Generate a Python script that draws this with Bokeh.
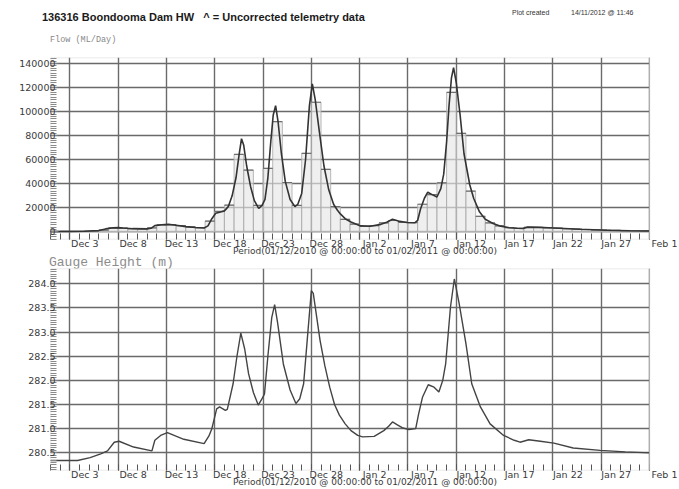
import datetime as dt
from bokeh.plotting import figure
from bokeh.layouts import column
from bokeh.models import (Range1d, FixedTicker, SingleIntervalTicker, NumeralTickFormatter,
                          DatetimeAxis, BoxAnnotation, Div)
from bokeh.embed import file_html
from bokeh.resources import INLINE

# ---------------- data ----------------
start_date = "2010-12-01"
end_date = "2011-02-01"

tick_dates = ["2010-12-03", "2010-12-08", "2010-12-13", "2010-12-18", "2010-12-23", "2010-12-28",
              "2011-01-02", "2011-01-07", "2011-01-12", "2011-01-17", "2011-01-22", "2011-01-27",
              "2011-02-01"]
tick_labels = ["Dec 3", "Dec 8", "Dec 13", "Dec 18", "Dec 23", "Dec 28",
               "Jan 2", "Jan 7", "Jan 12", "Jan 17", "Jan 22", "Jan 27", "Feb 1"]

# daily mean flow (ML/Day), Dec 1 2010 .. Jan 31 2011
daily_flow = [300, 400, 400, 500, 700, 1500, 3300, 3200, 2700, 2500,
              3300, 5800, 6100, 5200, 4200, 3500, 9000, 17000, 22200, 64400,
              51400, 22000, 52800, 91700, 41100, 22000, 65300, 107800, 52000, 21000,
              10500, 6500, 4800, 5200, 7500, 9500, 8000, 7800, 23000, 31000,
              40800, 116000, 82000, 33900, 13000, 7500, 5000, 3500, 3000, 3900,
              3800, 3500, 3200, 2800, 2400, 2000, 1700, 1500, 1300, 1100,
              1000, 900]

# instantaneous flow: days since Dec 1 00:00, ML/Day
flow_t = [0, 2, 3.5, 5, 5.7, 6.5, 7.0, 7.5, 8.5, 10.0, 10.4, 10.8, 11.5, 12.2, 13.0, 14.0, 15.0,
          15.9, 16.3, 16.7, 17.1, 17.6, 18.0, 18.4, 18.8, 19.2, 19.5, 19.77, 20.0, 20.3, 20.7,
          21.1, 21.55, 21.9, 22.2, 22.5, 22.8, 23.05, 23.3, 23.55, 23.9, 24.3, 24.8, 25.3, 25.6,
          26.0, 26.4, 26.8, 27.1, 27.4, 27.8, 28.3, 28.8, 29.3, 29.7, 30.0, 30.5, 31.1, 32.1,
          33.1, 34.2, 34.8, 35.4, 36.0, 36.9, 37.7, 38.0, 38.3, 38.7, 39.05, 39.5, 40.0, 40.4,
          40.7, 41.0, 41.25, 41.5, 41.72, 42.0, 42.4, 42.8, 43.4, 43.8, 44.4, 45.0, 45.8, 46.6,
          47.5, 48.3, 48.9, 49.4, 50.5, 52.1, 54.8, 57.6, 60.0, 62.0]
flow_v = [300, 400, 600, 1200, 2500, 3400, 3600, 3200, 2700, 2500, 3000, 5200, 6000, 6300, 5500, 4400, 3700,
          3300, 5000, 11000, 15500, 16500, 17500, 21000, 30000, 45000, 63000, 77500, 72000, 55000, 38000,
          26000, 19500, 22000, 27000, 45000, 75000, 97000, 105000, 92000, 65000, 42000, 27000, 21000, 23000,
          32000, 60000, 105000, 123000, 110000, 85000, 55000, 35000, 23000, 18000, 15000, 11000, 8300, 5000,
          4700, 6300, 8000, 10500, 9000, 7800, 7600, 9500, 19000, 28000, 33000, 31000, 29000, 36000,
          48000, 75000, 105000, 128000, 136500, 124000, 97000, 65000, 39000, 28000, 16700, 10500, 7000, 4800,
          3500, 3000, 2900, 4000, 3800, 3300, 2200, 1400, 1000, 800]

# gauge height (m)
gauge_t = [0, 2.8, 4.1, 5.2, 5.9, 6.6, 7.1, 8.6, 10.5, 10.8, 11.4, 12.1, 13.8, 15.9, 16.4, 16.7,
           17.2, 17.5, 18.1, 18.3, 18.9, 19.3, 19.7, 20.1, 20.5, 21.0, 21.5, 21.9, 22.15, 22.5, 22.9,
           23.2, 23.5, 24.1, 24.8, 25.4, 25.8, 26.2, 26.6, 27.0, 27.2, 27.9, 28.4, 28.9, 29.4, 29.9,
           30.5, 31.1, 31.8, 32.3, 33.5, 34.5, 35.0, 35.4, 35.9, 36.4, 37.1, 37.8, 38.1, 38.5, 39.1,
           39.7, 40.2, 40.6, 40.9, 41.4, 41.8, 42.3, 43.0, 43.6, 44.5, 45.5, 46.9, 48.0, 48.6, 49.5,
           50.7, 52.1, 54.1, 56.9, 59.5, 62.0]
gauge_v = [280.34, 280.34, 280.40, 280.48, 280.54, 280.72, 280.74, 280.62, 280.54, 280.76, 280.86, 280.92,
           280.78, 280.69, 280.85, 281.00, 281.41, 281.45, 281.38, 281.40, 281.93, 282.50, 282.98, 282.65,
           282.14, 281.75, 281.49, 281.62, 281.72, 282.50, 283.30, 283.57, 283.20, 282.34, 281.80, 281.52,
           281.62, 281.93, 282.90, 283.86, 283.80, 282.83, 282.30, 281.86, 281.50, 281.28, 281.10, 280.96,
           280.86, 280.83, 280.84, 280.96, 281.05, 281.14, 281.08, 281.02, 280.98, 281.00, 281.30, 281.65,
           281.91, 281.86, 281.76, 282.00, 282.34, 283.52, 284.10, 283.59, 282.76, 281.93, 281.45, 281.10,
           280.86, 280.76, 280.72, 280.77, 280.74, 280.70, 280.60, 280.55, 280.52, 280.50]

title_text = "136316 Boondooma Dam HW   ^ = Uncorrected telemetry data"
created_label = "Plot created"
created_stamp = "14/11/2012 @ 11:46"
flow_title = "Flow (ML/Day)"
gauge_title = "Gauge Height (m)"
period_text = "Period(01/12/2010 @ 00:00:00 to 01/02/2011 @ 00:00:00)"

# ---------------- layout constants ----------------
W = 679
FRAME_L = 50             # frame left edge (px)
PLOT_W = 599             # px from Dec 1 to Feb 1
EXTRA_W = W - FRAME_L - PLOT_W   # room right of Feb 1 for its tick label
LABEL_SHIFT_PX = 15      # labels start at the grid line

T0 = dt.datetime.fromisoformat(start_date)
T1 = dt.datetime.fromisoformat(end_date)
EPOCH = dt.datetime(1970, 1, 1)
n_days = (T1 - T0).days
px_per_day = PLOT_W / n_days
T_END = T1 + dt.timedelta(days=EXTRA_W / px_per_day)
shift = dt.timedelta(days=LABEL_SHIFT_PX / px_per_day)


def at(t):
    return T0 + dt.timedelta(days=t)


def ms(d):
    return (d - EPOCH).total_seconds() * 1000.0


tick_dt = [dt.datetime.fromisoformat(s) for s in tick_dates]
grid_ms = [ms(d) for d in tick_dt]
day_ms = [ms(at(i)) for i in range(n_days + 1)]

GRID = "#6a6a6a"
TXT = "#3a3a3a"


def base_fig(height, y_range, b_top, b_bottom):
    p = figure(width=W, height=height, x_axis_type="datetime",
               x_range=Range1d(T0, T_END), y_range=y_range,
               output_backend="svg", toolbar_location=None,
               min_border_left=FRAME_L, min_border_right=0,
               min_border_top=b_top, min_border_bottom=b_bottom)
    p.extra_x_ranges = {"lab": Range1d(T0 - shift, T_END - shift)}
    p.background_fill_color = "white"
    p.border_fill_color = "white"
    p.outline_line_color = None
    # x axis A: grid-date major ticks and daily minor ticks, inside the frame
    xa = p.xaxis[0]
    xa.ticker = FixedTicker(ticks=grid_ms, minor_ticks=day_ms)
    xa.major_label_text_font_size = "0px"
    xa.major_label_text_color = None
    xa.major_label_standoff = 0
    xa.axis_line_color = None
    xa.major_tick_in = 6
    xa.major_tick_out = 0
    xa.minor_tick_in = 6
    xa.minor_tick_out = 0
    xa.major_tick_line_color = "#555555"
    xa.minor_tick_line_color = "#555555"
    # x axis B: the date labels, starting at each grid line
    xb = DatetimeAxis(x_range_name="lab", ticker=FixedTicker(ticks=grid_ms),
                      major_label_overrides={g: t for g, t in zip(grid_ms, tick_labels)})
    xb.axis_line_color = None
    xb.major_tick_line_color = None
    xb.minor_tick_line_color = None
    xb.major_tick_in = 0
    xb.major_tick_out = 0
    xb.major_label_standoff = -2
    xb.major_label_text_font = "DejaVu Sans"
    xb.major_label_text_font_size = "9.5px"
    xb.major_label_text_color = TXT
    xb.axis_label = period_text
    xb.axis_label_standoff = -6
    xb.axis_label_text_font = "DejaVu Sans"
    xb.axis_label_text_font_size = "9px"
    xb.axis_label_text_font_style = "normal"
    xb.axis_label_text_color = TXT
    p.add_layout(xb, "below")
    # y axis
    ya = p.yaxis[0]
    ya.axis_line_color = None
    ya.major_tick_in = 8
    ya.major_tick_out = 0
    ya.minor_tick_in = 6
    ya.minor_tick_out = 0
    ya.major_tick_line_color = "#777777"
    ya.minor_tick_line_color = "#8a8a8a"
    ya.major_label_standoff = -5
    ya.major_label_text_font = "DejaVu Sans"
    ya.major_label_text_font_size = "9.5px"
    ya.major_label_text_color = TXT
    # grid
    p.xgrid[0].ticker = FixedTicker(ticks=grid_ms)
    for g in (p.xgrid[0], p.ygrid[0]):
        g.grid_line_color = GRID
        g.grid_line_width = 1.4
    # blank the strip right of Feb 1, draw the frame box
    p.add_layout(BoxAnnotation(left=ms(T1), fill_color="white", fill_alpha=1.0,
                               line_color=None, level="overlay"))
    p.add_layout(BoxAnnotation(left=ms(T0), right=ms(T1), fill_alpha=0.0,
                               line_color="#a0a0a0", line_width=1.4, level="overlay"))
    return p


# ---------------- header ----------------
FONT = "'Liberation Sans', Arial, sans-serif"
MONO = "'Liberation Mono', 'Courier New', monospace"
header_html = (
    f'<div style="position:relative;width:{W}px;height:57px;margin:0;padding:0;">'
    f'<span style="position:absolute;left:42px;top:11px;line-height:12px;font-family:{FONT};'
    f'font-size:11px;font-weight:bold;color:#1a1a1a;white-space:pre;">{title_text}</span>'
    f'<span style="position:absolute;left:512px;top:9px;line-height:8px;font-family:{FONT};'
    f'font-size:7px;color:#333;white-space:pre;">{created_label}</span>'
    f'<span style="position:absolute;left:571px;top:9px;line-height:8px;font-family:{FONT};'
    f'font-size:7px;color:#333;white-space:pre;">{created_stamp}</span>'
    f'<span style="position:absolute;left:50px;top:35px;line-height:10px;font-family:{MONO};'
    f'font-size:8.5px;color:#888;white-space:pre;">{flow_title}</span>'
    '</div>'
)
header = Div(text=header_html, width=W, height=57, margin=(0, 0, 0, 0),
             styles={"overflow": "visible"})

# ---------------- top: flow ----------------
top = base_fig(201, Range1d(-6300, 145000), 0, 19)
top.yaxis[0].ticker = SingleIntervalTicker(interval=20000, num_minor_ticks=10)
top.yaxis[0].formatter = NumeralTickFormatter(format="0")

bar_left = [at(i) for i in range(len(daily_flow))]
bar_right = [at(i + 1) for i in range(len(daily_flow))]
top.quad(left=bar_left, right=bar_right, bottom=0, top=daily_flow,
         fill_color="#e6e6e6", fill_alpha=0.65, line_color="#a8a8a8", line_width=0.8)
top.segment(x0=bar_left, x1=bar_right, y0=daily_flow, y1=daily_flow,
            line_color="#6e6e6e", line_width=1.2)
top.line([at(t) for t in flow_t], flow_v, line_color="#333333", line_width=1.6)

# ---------------- gauge caption ----------------
gauge_html = (
    f'<div style="position:relative;width:{W}px;height:10px;margin:0;padding:0;">'
    f'<span style="position:absolute;left:49px;top:-3px;line-height:12px;font-family:{MONO};'
    f'font-size:13px;color:#8c8c8c;white-space:pre;">{gauge_title}</span></div>'
)
gdiv = Div(text=gauge_html, width=W, height=10, margin=(0, 0, 0, 0),
           styles={"overflow": "visible"})

# ---------------- bottom: gauge height ----------------
bot = base_fig(221, Range1d(280.134, 284.317), 0, 19)
bot.yaxis[0].ticker = SingleIntervalTicker(interval=0.5, num_minor_ticks=10)
bot.yaxis[0].formatter = NumeralTickFormatter(format="0.0")
bot.line([at(t) for t in gauge_t], gauge_v, line_color="#444444", line_width=1.4)

layout = column(header, top, gdiv, bot, spacing=0)
open("out.html", "w").write(file_html(layout, INLINE))
